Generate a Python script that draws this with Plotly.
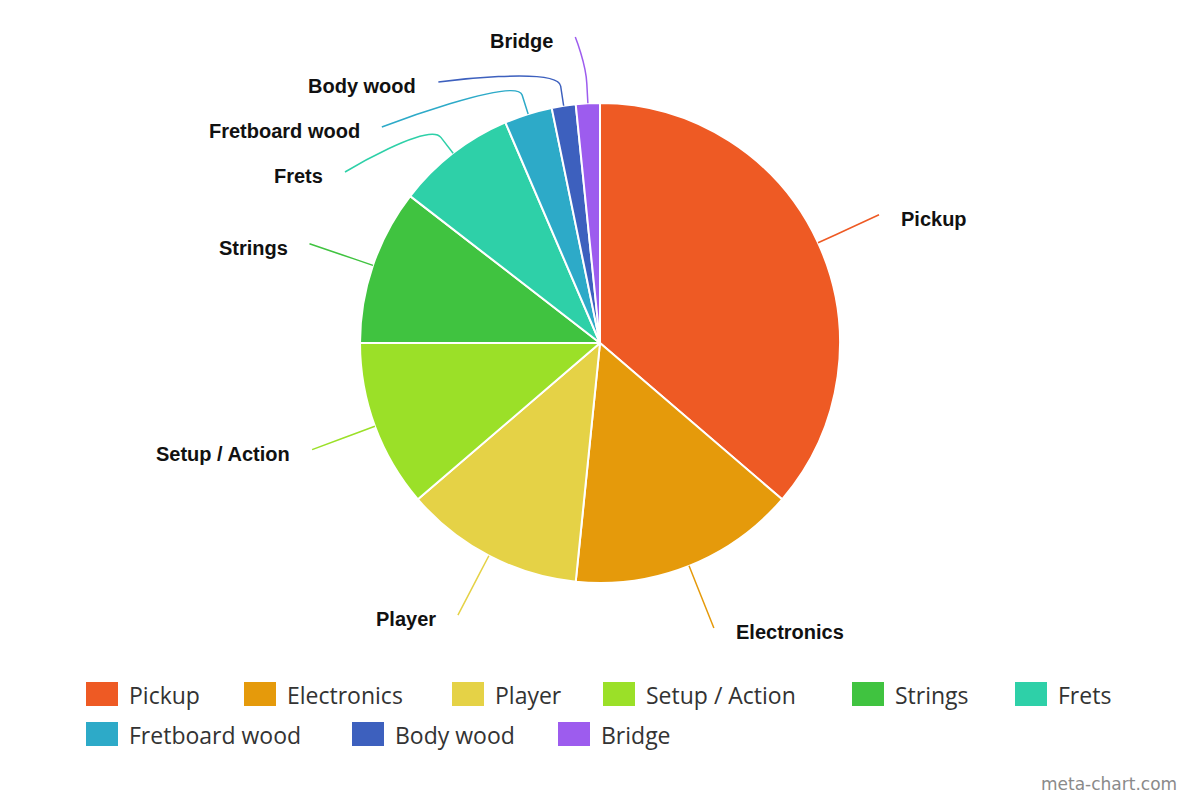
import math
import plotly.graph_objects as go

# data
labels = ['Pickup', 'Electronics', 'Player', 'Setup / Action', 'Strings', 'Frets',
          'Fretboard wood', 'Body wood', 'Bridge']
values = [45, 19, 15, 14, 13, 10, 4, 2, 2]
colors = ['#EE5A24', '#E59A0B', '#E5D246', '#9BE028', '#40C340', '#2ED0A8',
          '#2DAAC8', '#3D60BE', '#9D5CEE']

W, H = 1200, 800
cx, cy, R = 600, 343, 240
label_r = 307      # where the connectors end
break_off = 20     # first break of the connector, outside the pie
min_gap = 45       # vertical space between labels on one side
top_y = 37

# legend layout (pixels)
legend_rows = [[0, 1, 2, 3, 4, 5], [6, 7, 8]]
legend_x = [[86, 244, 452, 603, 852, 1015], [86, 352, 558]]
legend_y = [694, 734]


def px(x):
    return x / W


def py(y):
    return 1 - y / H


fig = go.Figure()
fig.add_trace(go.Pie(
    labels=labels, values=values, sort=False, direction='clockwise', rotation=0,
    marker=dict(colors=colors, line=dict(color='white', width=2)),
    textinfo='none', hoverinfo='label+value+percent', showlegend=False,
    domain=dict(x=[px(cx - R), px(cx + R)], y=[py(cy + R), py(cy - R)]),
))

# slice mid angles (clockwise from 12 o'clock)
total = sum(values)
mids = []
acc = 0
for v in values:
    mids.append((acc + v / 2) / total * 2 * math.pi)
    acc += v

# natural label y, then push apart on each side
left = [m > math.pi for m in mids]
label_y = [cy - label_r * math.cos(m) for m in mids]
for side in (True, False):
    idx = sorted([i for i in range(len(values)) if left[i] == side], key=lambda i: label_y[i])
    prev = None
    for i in idx:
        y = max(label_y[i], top_y)
        if prev is not None:
            y = max(y, prev + min_gap)
        label_y[i] = y
        prev = y

shapes = []
annotations = []
for i, m in enumerate(mids):
    s, c = math.sin(m), math.cos(m)
    bx, by = cx + R * s, cy - R * c
    kx, ky = cx + (R + break_off) * s, cy - (R + break_off) * c
    ly = label_y[i]
    dx = math.sqrt(max(label_r ** 2 - (ly - cy) ** 2, 0))
    lx = cx - dx if left[i] else cx + dx
    c2x, c2y = 2 * kx - bx, 2 * ky - by
    path = 'M {:.4f},{:.4f} C {:.4f},{:.4f} {:.4f},{:.4f} {:.4f},{:.4f} L {:.4f},{:.4f}'.format(
        px(lx), py(ly), px(lx), py(ly), px(c2x), py(c2y), px(kx), py(ky), px(bx), py(by))
    shapes.append(dict(type='path', xref='paper', yref='paper', path=path,
                       line=dict(color=colors[i], width=1.5)))
    annotations.append(dict(
        x=px(lx - 20 if left[i] else lx + 20), y=py(ly + 4), xref='paper', yref='paper',
        text='<b>' + labels[i] + '</b>', showarrow=False,
        xanchor='right' if left[i] else 'left', yanchor='middle',
        font=dict(family='Liberation Sans, Arial', size=20, color='#111111')))

# legend
for r, row in enumerate(legend_rows):
    for j, i in enumerate(row):
        x0 = legend_x[r][j]
        yc = legend_y[r]
        shapes.append(dict(type='rect', xref='paper', yref='paper',
                           x0=px(x0), x1=px(x0 + 32), y0=py(yc + 12), y1=py(yc - 12),
                           fillcolor=colors[i], line=dict(width=0)))
        annotations.append(dict(
            x=px(x0 + 41), y=py(yc + 1), xref='paper', yref='paper', text=labels[i],
            showarrow=False, xanchor='left', yanchor='middle',
            font=dict(family='Open Sans', size=23, color='#333333')))

annotations.append(dict(x=px(1179), y=py(784), xref='paper', yref='paper',
                        text='meta-chart.com', showarrow=False, xanchor='right', yanchor='middle',
                        font=dict(family='DejaVu Sans', size=17, color='#8a8a8a')))

fig.update_layout(width=W, height=H, margin=dict(l=0, r=0, t=0, b=0),
                  paper_bgcolor='white', plot_bgcolor='white',
                  shapes=shapes, annotations=annotations)

fig.write_html("out.html", config={'displayModeBar': False},
               post_script="document.body.style.margin='0';")
